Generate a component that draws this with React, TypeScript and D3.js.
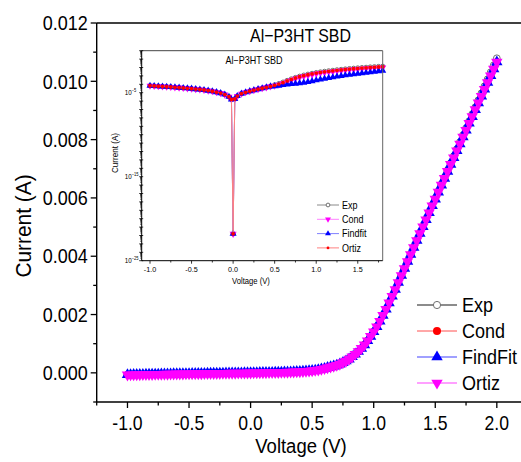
import React from 'react';
import * as d3 from 'd3';

const FONT = "Arial, 'Liberation Sans', sans-serif";
const WIDTH = 521;
const HEIGHT = 462;

// main plot: sweep voltage (V)
const voltage = [
  -1.0, -0.975, -0.95, -0.925, -0.9, -0.875, -0.85, -0.825, -0.8, -0.775,
  -0.75, -0.725, -0.7, -0.675, -0.65, -0.625, -0.6, -0.575, -0.55, -0.525,
  -0.5, -0.475, -0.45, -0.425, -0.4, -0.375, -0.35, -0.325, -0.3, -0.275,
  -0.25, -0.225, -0.2, -0.175, -0.15, -0.125, -0.1, -0.075, -0.05, -0.025,
  0, 0.025, 0.05, 0.075, 0.1, 0.125, 0.15, 0.175, 0.2, 0.225,
  0.25, 0.275, 0.3, 0.325, 0.35, 0.375, 0.4, 0.425, 0.45, 0.475,
  0.5, 0.525, 0.55, 0.575, 0.6, 0.625, 0.65, 0.675, 0.7, 0.725,
  0.75, 0.775, 0.8, 0.825, 0.85, 0.875, 0.9, 0.925, 0.95, 0.975,
  1.0, 1.025, 1.05, 1.075, 1.1, 1.125, 1.15, 1.175, 1.2, 1.225,
  1.25, 1.275, 1.3, 1.325, 1.35, 1.375, 1.4, 1.425, 1.45, 1.475,
  1.5, 1.525, 1.55, 1.575, 1.6, 1.625, 1.65, 1.675, 1.7, 1.725,
  1.75, 1.775, 1.8, 1.825, 1.85, 1.875, 1.9, 1.925, 1.95, 1.975,
  2.0,
];

// measured current (A)
const expCurrent = [
  -6.8e-5, -6.5e-5, -6.3e-5, -6.1e-5, -5.9e-5, -5.7e-5, -5.5e-5, -5.3e-5, -5.1e-5, -4.9e-5,
  -4.8e-5, -4.6e-5, -4.4e-5, -4.2e-5, -4.0e-5, -3.8e-5, -3.6e-5, -3.5e-5, -3.3e-5, -3.2e-5,
  -3.0e-5, -2.8e-5, -2.7e-5, -2.5e-5, -2.4e-5, -2.2e-5, -2.1e-5, -1.9e-5, -1.8e-5, -1.6e-5,
  -1.5e-5, -1.3e-5, -1.2e-5, -1.0e-5, -8.9e-6, -7.5e-6, -6.0e-6, -4.5e-6, -3.3e-6, -2.0e-6,
  0, 2.2e-6, 4.0e-6, 5.8e-6, 7.6e-6, 9.4e-6, 1.1e-5, 1.3e-5, 1.5e-5, 1.7e-5,
  2.0e-5, 2.3e-5, 2.6e-5, 3.0e-5, 3.4e-5, 3.9e-5, 4.4e-5, 5.0e-5, 5.6e-5, 6.5e-5,
  7.6e-5, 8.8e-5, 1.05e-4, 1.25e-4, 1.5e-4, 1.78e-4, 2.05e-4, 2.32e-4, 2.6e-4, 3.0e-4,
  3.5e-4, 4.05e-4, 4.7e-4, 5.5e-4, 6.4e-4, 7.3e-4, 8.4e-4, 9.6e-4, 1.1e-3, 1.25e-3,
  1.41e-3, 1.58e-3, 1.77e-3, 1.97e-3, 2.18e-3, 2.4e-3, 2.63e-3, 2.86e-3, 3.1e-3, 3.34e-3,
  3.58e-3, 3.82e-3, 4.06e-3, 4.3e-3, 4.54e-3, 4.78e-3, 5.02e-3, 5.27e-3, 5.51e-3, 5.75e-3,
  5.99e-3, 6.23e-3, 6.47e-3, 6.71e-3, 6.95e-3, 7.19e-3, 7.43e-3, 7.67e-3, 7.91e-3, 8.15e-3,
  8.39e-3, 8.63e-3, 8.87e-3, 9.11e-3, 9.35e-3, 9.59e-3, 9.83e-3, 1.007e-2, 1.031e-2, 1.055e-2,
  1.079e-2,
];

// the three fits lie on top of each other in the main plot
const fitCurrent = [
  -6.8e-5, -6.5e-5, -6.3e-5, -6.1e-5, -5.9e-5, -5.7e-5, -5.5e-5, -5.3e-5, -5.1e-5, -4.9e-5,
  -4.8e-5, -4.6e-5, -4.4e-5, -4.2e-5, -4.0e-5, -3.8e-5, -3.6e-5, -3.5e-5, -3.3e-5, -3.2e-5,
  -3.0e-5, -2.8e-5, -2.7e-5, -2.5e-5, -2.4e-5, -2.2e-5, -2.1e-5, -1.9e-5, -1.8e-5, -1.6e-5,
  -1.5e-5, -1.3e-5, -1.2e-5, -1.0e-5, -8.9e-6, -7.5e-6, -6.0e-6, -4.5e-6, -3.3e-6, -2.0e-6,
  0, 2.2e-6, 4.0e-6, 5.8e-6, 7.6e-6, 9.4e-6, 1.1e-5, 1.3e-5, 1.5e-5, 1.7e-5,
  2.0e-5, 2.3e-5, 2.6e-5, 3.0e-5, 3.4e-5, 3.9e-5, 4.4e-5, 5.0e-5, 5.6e-5, 6.5e-5,
  7.6e-5, 8.8e-5, 1.05e-4, 1.25e-4, 1.5e-4, 1.78e-4, 2.05e-4, 2.32e-4, 2.6e-4, 3.0e-4,
  3.5e-4, 4.05e-4, 4.7e-4, 5.5e-4, 6.4e-4, 7.3e-4, 8.4e-4, 9.6e-4, 1.1e-3, 1.25e-3,
  1.41e-3, 1.58e-3, 1.77e-3, 1.97e-3, 2.18e-3, 2.4e-3, 2.63e-3, 2.86e-3, 3.1e-3, 3.34e-3,
  3.58e-3, 3.82e-3, 4.06e-3, 4.3e-3, 4.54e-3, 4.78e-3, 5.01e-3, 5.25e-3, 5.49e-3, 5.73e-3,
  5.96e-3, 6.2e-3, 6.44e-3, 6.67e-3, 6.91e-3, 7.15e-3, 7.38e-3, 7.62e-3, 7.85e-3, 8.09e-3,
  8.32e-3, 8.56e-3, 8.79e-3, 9.03e-3, 9.26e-3, 9.49e-3, 9.73e-3, 9.96e-3, 1.019e-2, 1.042e-2,
  1.066e-2,
];

// inset: |I| on a log axis
const insetVoltage = [
  -1.0, -0.95, -0.9, -0.85, -0.8, -0.75, -0.7, -0.65, -0.6, -0.55,
  -0.5, -0.45, -0.4, -0.35, -0.3, -0.25, -0.2, -0.15, -0.1, -0.05,
  -0.02, 0, 0.02, 0.05, 0.1, 0.15, 0.2, 0.25, 0.3, 0.35, 0.4, 0.45,
  0.5, 0.55, 0.6, 0.65, 0.7, 0.75, 0.8, 0.85, 0.9, 0.95,
  1.0, 1.05, 1.1, 1.15, 1.2, 1.25, 1.3, 1.35, 1.4, 1.45,
  1.5, 1.55, 1.6, 1.65, 1.7, 1.75, 1.8,
];
// reverse and low bias, where all four curves coincide
const insetLow = [
  6.76e-5, 6.31e-5, 5.89e-5, 5.5e-5, 5.13e-5, 4.79e-5, 4.37e-5, 3.98e-5, 3.63e-5, 3.31e-5,
  3.02e-5, 2.69e-5, 2.4e-5, 2.09e-5, 1.78e-5, 1.48e-5, 1.17e-5, 8.91e-6, 6.03e-6, 3.31e-6,
  1.58e-6, 1.58e-22, 1.78e-6, 3.98e-6, 7.59e-6, 1.12e-5, 1.51e-5, 2.0e-5, 2.63e-5, 3.39e-5,
  4.37e-5, 5.62e-5,
];
const insetExpHigh = [
  8.4e-5, 1.18e-4, 1.77e-4, 2.81e-4, 4.26e-4, 6.29e-4, 8.89e-4, 1.2e-3, 1.55e-3, 1.95e-3,
  2.4e-3, 2.88e-3, 3.38e-3, 3.89e-3, 4.46e-3, 5.12e-3, 5.75e-3, 6.44e-3, 7.24e-3, 7.93e-3,
  8.69e-3, 9.53e-3, 1.02e-2, 1.12e-2, 1.2e-2, 1.29e-2, 1.38e-2,
];
const insetCondHigh = [
  6.8e-5, 9.0e-5, 1.3e-4, 2.05e-4, 3.1e-4, 4.6e-4, 6.5e-4, 8.8e-4, 1.14e-3, 1.44e-3,
  1.77e-3, 2.13e-3, 2.5e-3, 2.88e-3, 3.3e-3, 3.79e-3, 4.26e-3, 4.77e-3, 5.36e-3, 5.88e-3,
  6.44e-3, 7.06e-3, 7.57e-3, 8.3e-3, 8.88e-3, 9.55e-3, 1.02e-2,
];
const insetFindfitHigh = [
  6.03e-5, 6.92e-5, 8.13e-5, 9.55e-5, 1.1e-4, 1.2e-4, 1.35e-4, 1.58e-4, 1.95e-4, 2.4e-4,
  3.02e-4, 3.8e-4, 4.79e-4, 5.75e-4, 6.92e-4, 8.32e-4, 1.0e-3, 1.17e-3, 1.38e-3, 1.58e-3,
  1.78e-3, 2.04e-3, 2.34e-3, 2.75e-3, 3.16e-3, 3.63e-3, 4.17e-3,
];
const insetOrtizHigh = [
  7.59e-5, 1.05e-4, 1.58e-4, 2.51e-4, 3.8e-4, 5.62e-4, 7.94e-4, 1.07e-3, 1.38e-3, 1.74e-3,
  2.14e-3, 2.57e-3, 3.02e-3, 3.47e-3, 3.98e-3, 4.57e-3, 5.13e-3, 5.75e-3, 6.46e-3, 7.08e-3,
  7.76e-3, 8.51e-3, 9.12e-3, 1.0e-2, 1.07e-2, 1.15e-2, 1.23e-2,
];

const yTicks = [0, 0.002, 0.004, 0.006, 0.008, 0.01, 0.012];
const yMinor = [-0.001, 0.001, 0.003, 0.005, 0.007, 0.009, 0.011];
const xTicks = [-1.0, -0.5, 0.0, 0.5, 1.0, 1.5, 2.0];
const xMinor = [-1.25, -0.75, -0.25, 0.25, 0.75, 1.25, 1.75, 2.25];
const insetXTicks = [-1.0, -0.5, 0.0, 0.5, 1.0, 1.5];
const insetXMinor = [-0.75, -0.25, 0.25, 0.75, 1.25, 1.75];
const insetYExp = [-25, -15, -5];

const xMain = d3.scaleLinear().domain([-1.25, 2.25]).range([96.7, 527.6]);
const yMain = d3.scaleLinear().domain([-0.001, 0.012]).range([402, 23]);
const xIn = d3.scaleLinear().domain([-1.1, 1.8]).range([141.7, 382.7]);
const yIn = d3.scaleLog().domain([1e-25, 1]).range([260.7, 50.7]);

const tri = (size: number) => d3.symbol(d3.symbolTriangle, size)() as string;

function Txt({ x, y, size, anchor = 'start', sx = 0.88, rotate = 0, fill = '#000', children }: any) {
  return (
    <text
      transform={`translate(${x},${y}) rotate(${rotate}) scale(${sx},1)`}
      fontSize={size}
      textAnchor={anchor}
      fontFamily={FONT}
      fill={fill}
    >
      {children}
    </text>
  );
}

function Marker({ kind, x, y, s, color }: any) {
  if (kind === 'open')
    return <circle cx={x} cy={y} r={s} fill="#fff" stroke={color} strokeWidth={1} />;
  if (kind === 'dot' || kind === 'circle')
    return <circle cx={x} cy={y} r={s} fill={color} />;
  const size = s * s * 3.2;
  return (
    <path
      d={tri(size)}
      transform={`translate(${x},${y})${kind === 'down' ? ' rotate(180)' : ''}`}
      fill={color}
    />
  );
}

const mainSeries = [
  { name: 'Exp', values: expCurrent, line: '#8c8c8c', lw: 2, kind: 'open', color: '#707070', s: 3.4, ls: 3.6 },
  { name: 'Cond', values: fitCurrent, line: '#ff5050', lw: 1, kind: 'circle', color: '#ff0000', s: 3.8, ls: 4 },
  { name: 'FindFit', values: fitCurrent, line: '#8080ff', lw: 1.5, kind: 'up', color: '#0000ff', s: 4.2, ls: 4.2 },
  { name: 'Ortiz', values: fitCurrent, line: '#ff80ff', lw: 1.5, kind: 'down', color: '#ff00ff', s: 4.2, ls: 4.2 },
];

const insetSeries = [
  { name: 'Exp', values: [...insetLow, ...insetExpHigh], line: '#8a8a8a', kind: 'open', color: '#707070', s: 2.2, ls: 1.9 },
  { name: 'Cond', values: [...insetLow, ...insetCondHigh], line: '#ff80ff', kind: 'down', color: '#ff00ff', s: 2.6, ls: 2.2 },
  { name: 'Findfit', values: [...insetLow, ...insetFindfitHigh], line: '#8080ff', kind: 'up', color: '#0000ff', s: 2.6, ls: 2.2 },
  { name: 'Ortiz', values: [...insetLow, ...insetOrtizHigh], line: '#ff8080', kind: 'dot', color: '#ff0000', s: 1.9, ls: 1.4 },
];

const mainLine = d3
  .line<number>()
  .x((_, i) => xMain(voltage[i]))
  .y((d) => yMain(d));

const insetLine = d3
  .line<number>()
  .x((_, i) => xIn(insetVoltage[i]))
  .y((d) => yIn(d));

function Inset() {
  const left = xIn.range()[0];
  const right = xIn.range()[1];
  const top = yIn.range()[1];
  const bottom = yIn.range()[0];
  const decades = d3.range(-25, 1);
  const minorLog: number[] = [];
  decades.slice(0, -1).forEach((e) => {
    for (let k = 2; k <= 9; k++) minorLog.push(k * Math.pow(10, e));
  });
  return (
    <g>
      <rect x={left} y={top} width={right - left} height={bottom - top} fill="#fff" />
      {insetSeries.map((s) => (
        <g key={s.name}>
          <path d={insetLine(s.values) as string} fill="none" stroke={s.line} strokeWidth={1} />
          {s.values.map((v, i) => (
            <Marker key={i} kind={s.kind} x={xIn(insetVoltage[i])} y={yIn(v)} s={s.s} color={s.color} />
          ))}
        </g>
      ))}
      <line x1={left} x2={right} y1={top} y2={top} stroke="#444" strokeWidth={1} />
      <line x1={right} x2={right} y1={top} y2={bottom} stroke="#666" strokeWidth={1} />
      <line x1={left} x2={left} y1={top} y2={bottom} stroke="#000" strokeWidth={1} />
      <line x1={left} x2={right} y1={bottom} y2={bottom} stroke="#000" strokeWidth={1} />
      {decades.map((e) => (
        <line key={e} x1={left - 2.5} x2={left + 1.5} y1={yIn(Math.pow(10, e))} y2={yIn(Math.pow(10, e))} stroke="#000" strokeWidth={0.8} />
      ))}
      {minorLog.map((v, i) => (
        <line key={i} x1={left - 1.5} x2={left} y1={yIn(v)} y2={yIn(v)} stroke="#000" strokeWidth={0.6} />
      ))}
      {insetYExp.map((e) => (
        <g key={e}>
          <Txt x={left - 10} y={yIn(Math.pow(10, e)) + 2.5} size={7} anchor="end" sx={0.9}>10</Txt>
          <Txt x={left - 10} y={yIn(Math.pow(10, e)) - 0.5} size={4.5} sx={0.9}>{`\u2212${-e}`}</Txt>
        </g>
      ))}
      {insetXTicks.map((t) => (
        <g key={t}>
          <line x1={xIn(t)} x2={xIn(t)} y1={bottom} y2={bottom + 3} stroke="#000" strokeWidth={0.8} />
          <Txt x={xIn(t)} y={bottom + 11} size={8} anchor="middle" sx={0.9}>{t.toFixed(1)}</Txt>
        </g>
      ))}
      {insetXMinor.map((t) => (
        <line key={t} x1={xIn(t)} x2={xIn(t)} y1={bottom} y2={bottom + 1.8} stroke="#000" strokeWidth={0.8} />
      ))}
      <Txt x={251} y={284} size={8.5} anchor="middle" sx={0.9}>Voltage (V)</Txt>
      <Txt x={118} y={153} size={9} anchor="middle" sx={0.9} rotate={-90}>Current (A)</Txt>
      <Txt x={254} y={64} size={10} anchor="middle" sx={0.9}>Al−P3HT SBD</Txt>
      {insetSeries.map((s, i) => {
        const ly = 205 + i * 14.3;
        return (
          <g key={s.name}>
            <line x1={317} x2={339} y1={ly} y2={ly} stroke={s.line} strokeWidth={1} />
            <Marker kind={s.kind} x={328} y={ly} s={s.ls} color={s.color} />
            <Txt x={342} y={ly + 3.6} size={10} sx={0.9}>{s.name}</Txt>
          </g>
        );
      })}
    </g>
  );
}

export default function App() {
  const left = xMain.range()[0];
  const top = yMain.range()[1];
  const bottom = yMain.range()[0];
  return (
    <svg
      width={WIDTH}
      height={HEIGHT}
      style={{ position: 'absolute', left: 0, top: 0, background: '#fff' }}
    >
      <rect width={WIDTH} height={HEIGHT} fill="#fff" />
      {/* axes frame */}
      <line x1={left} x2={WIDTH + 10} y1={top} y2={top} stroke="#000" strokeWidth={1.4} />
      <line x1={left} x2={left} y1={top} y2={bottom} stroke="#000" strokeWidth={1.4} />
      <line x1={left} x2={WIDTH + 10} y1={bottom} y2={bottom} stroke="#000" strokeWidth={1.4} />
      {yTicks.map((t) => (
        <g key={t}>
          <line x1={left - 6} x2={left} y1={yMain(t)} y2={yMain(t)} stroke="#000" strokeWidth={1.3} />
          <Txt x={left - 9} y={yMain(t) + 7.2} size={20} anchor="end" sx={0.9}>{t.toFixed(3)}</Txt>
        </g>
      ))}
      {yMinor.map((t) => (
        <line key={t} x1={left - 3.5} x2={left} y1={yMain(t)} y2={yMain(t)} stroke="#000" strokeWidth={1.3} />
      ))}
      {xTicks.map((t) => (
        <g key={t}>
          <line x1={xMain(t)} x2={xMain(t)} y1={bottom} y2={bottom + 6} stroke="#000" strokeWidth={1.3} />
          <Txt x={xMain(t)} y={bottom + 28} size={20} anchor="middle" sx={0.88}>{t.toFixed(1)}</Txt>
        </g>
      ))}
      {xMinor.map((t) => (
        <line key={t} x1={xMain(t)} x2={xMain(t)} y1={bottom} y2={bottom + 3.5} stroke="#000" strokeWidth={1.3} />
      ))}
      <Txt x={301} y={453} size={21} anchor="middle" sx={0.88}>Voltage (V)</Txt>
      <Txt x={31} y={226} size={22} anchor="middle" sx={0.95} rotate={-90}>Current (A)</Txt>
      <Txt x={300.5} y={42} size={18.5} anchor="middle" sx={0.86}>Al−P3HT SBD</Txt>

      {/* main data */}
      {mainSeries.map((s) => (
        <g key={s.name}>
          <path d={mainLine(s.values) as string} fill="none" stroke={s.line} strokeWidth={s.lw} />
          {s.values.map((v, i) => (
            <Marker key={i} kind={s.kind} x={xMain(voltage[i])} y={yMain(v)} s={s.s} color={s.color} />
          ))}
        </g>
      ))}

      <Inset />

      {/* main legend */}
      {mainSeries.map((s, i) => {
        const ly = 305 + i * 26;
        return (
          <g key={s.name}>
            <line x1={417} x2={457} y1={ly} y2={ly} stroke={s.line} strokeWidth={s.lw} />
            <Marker kind={s.kind} x={437} y={ly} s={s.ls} color={s.color} />
            <Txt x={462} y={ly + 7.3} size={20} sx={0.9}>{s.name}</Txt>
          </g>
        );
      })}
    </svg>
  );
}
